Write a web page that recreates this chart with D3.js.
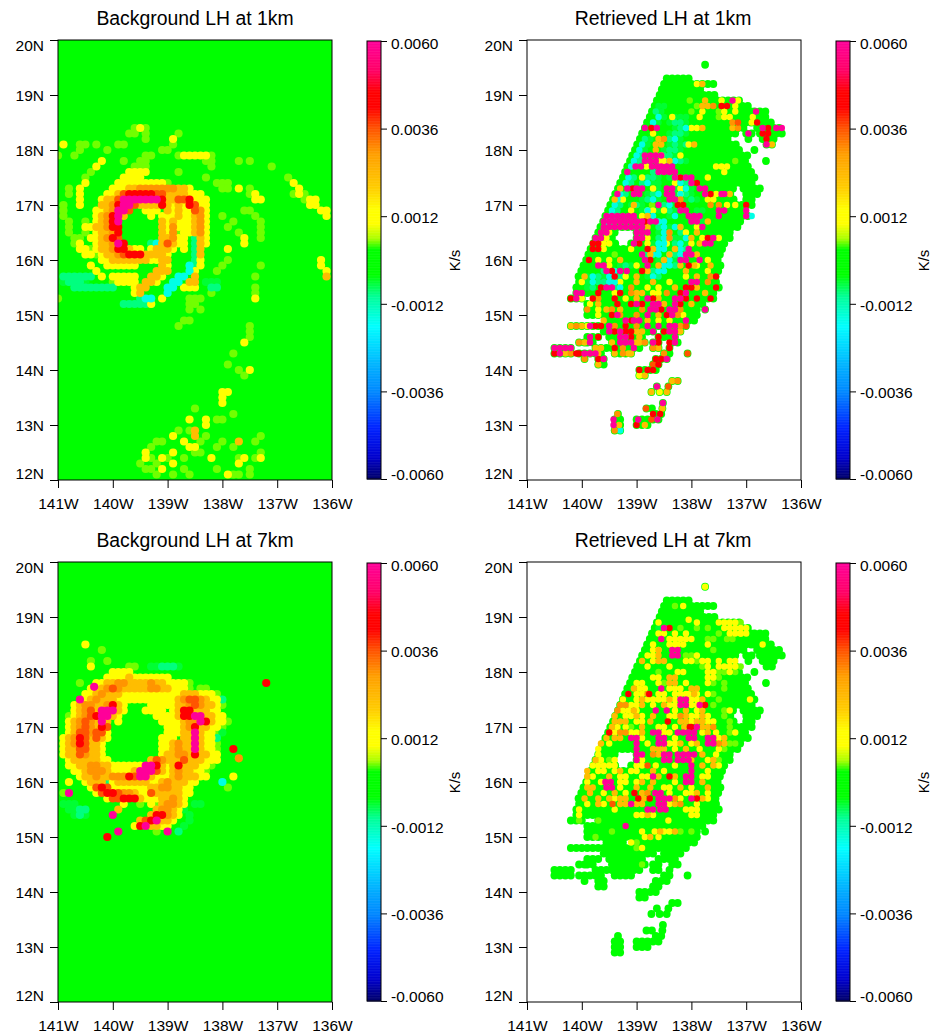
<!DOCTYPE html>
<html>
<head>
<meta charset="utf-8">
<script src="https://cdn.jsdelivr.net/npm/d3@7"></script>
<style>
  html, body { margin: 0; padding: 0; background: #fff; }
  text { font-family: "Liberation Sans", Arial, sans-serif; fill: #000; }
</style>
</head>
<body>
<div id="chart"></div>
<script>
// ------------------------------------
// Data
// Every run is [row, col, codes]: row = tenths of a degree south of 20N,
// col = tenths of a degree east of 141W, one code per 0.1 deg going east
// ------------------------------------
const lonTicks = [-141, -140, -139, -138, -137, -136];
const latTicks = [20, 19, 18, 17, 16, 15, 14, 13, 12];
const colorTicks = [0.006, 0.0036, 0.0012, -0.0012, -0.0036, -0.006];
const titles = ["Background LH at 1km", "Retrieved LH at 1km", "Background LH at 7km", "Retrieved LH at 7km"];

const stopValues = [0.006, 0.0052, 0.0046, 0.0042, 0.0036, 0.0029, 0.002, 0.0014, 0.001, 0.0006, 0.0003, -0.0004, -0.001, -0.0018, -0.003, -0.0036, -0.0046, -0.0054, -0.006];
const stopColors = ["#ff0099", "#ff0066", "#ff0000", "#ff0000", "#ff5500", "#ffa000", "#ffcc00", "#ffff00", "#ffff00", "#aaff00", "#00ff00", "#00ff00", "#00ff99", "#00ffff", "#00aaff", "#0088ff", "#0022ff", "#0000cc", "#000066"];

const codeNames = ["c", "s", "t", "g", "l", "y", "a", "o", "e", "r", "m"];
const codeValues = [-0.0016, -0.0009, -0.0006, 0, 0.0005, 0.0013, 0.0023, 0.003, 0.0036, 0.0045, 0.006];

const background1km = [
  [16,14,"lyl"],[17,13,"ll"],[17,16,"l"],[17,22,"l"],[18,21,"y"],[18,16,"l"],[19,21,"l"],[19,1,"y  ll l"],[19,11,"ll"],
  [20,4,"l"],[20,9,"l"],[20,19,"ll"],[21,0,"l  l"],[21,16,"ll"],[21,22,"lyyyyyl"],
  [22,8,"y"],[22,12,"l"],[22,15,"ll"],[22,27,"ll"],[22,33,"l"],[22,35,"l"],[23,7,"y"],[23,14,"lll"],[23,28,"l"],[23,39,"l"],
  [24,6,"l"],[24,13,"yyyy"],[24,22,"l"],[25,5,"l"],[25,12,"yyyy"],[25,27,"l"],[25,42,"l"],
  [26,5,"y"],[26,11,"yyyyyyyyyl"],[26,29,"lll"],[26,43,"y"],
  [27,2,"l"],[27,4,"y"],[27,10,"yyyaaoooooooaay"],[27,30,"ll"],[27,33,"y"],[27,35,"l"],[27,44,"y"],
  [28,2,"l"],[28,4,"y"],[28,9,"yyaerrrrreeaaaayyy"],[28,35,"ly"],[28,43,"lyl"],
  [29,4,"y"],[29,8,"yaaemmmmmmmraaeeryyy"],[29,36,"yy"],[29,45,"lyy"],
  [30,1,"l"],[30,4,"y"],[30,8,"aaormmeaaaarayayreyy"],[30,46,"yy"],
  [31,1,"l"],[31,7,"yyaomme"],[31,16,"yyy"],[31,20,"ayayyeoy"],[31,34,"ll"],[31,48,"yy"],
  [32,1,"l"],[32,7,"yaorma"],[32,17,"y"],[32,19,"yyyayyaoy"],[32,30,"l"],[32,36,"l"],[32,49,"y"],
  [33,2,"l"],[33,5,"l"],[33,7,"yaorm"],[33,19,"ayayyyaoy"],[33,32,"l"],[33,37,"l"],
  [34,2,"l"],[34,5,"yyaaorr"],[34,19,"ayoyyyaoy"],[34,31,"l"],[34,37,"l"],
  [35,2,"l"],[35,5,"l yaaor"],[35,19,"ayolyyaoy"],[35,33,"l"],[35,37,"l"],
  [36,3,"ll"],[36,6,"yyaore"],[36,19,"aaoyy"],[36,25,"say"],[36,34,"y"],[36,37,"l"],
  [37,3,"ly"],[37,7,"yaaomr"],[37,17,"sc"],[37,19,"aeayy"],[37,25,"say"],[37,34,"y"],
  [38,4,"yyl"],[38,7,"yaaorrayy"],[38,17,"yaaay"],[38,23,"y"],[38,25,"sa"],[38,31,"y"],
  [39,5,"yyl"],[39,8,"yaaoerrraaaay"],[39,25,"sa"],
  [40,8,"yyaaaaaaayyaa"],[40,25,"sy"],[40,31,"l"],[40,48,"y"],
  [41,6,"y"],[41,9,"yyyyyy"],[41,19,"ay"],[41,24,"csy"],[41,30,"l"],[41,37,"l"],[41,48,"y"],
  [42,7,"y"],[42,18,"aaa"],[42,24,"cy"],[42,29,"l"],[42,49,"y"],
  [43,1,"ssssss"],[43,8,"y"],[43,10,"yyyyy"],[43,17,"aay"],[43,22,"cc"],[43,25,"a"],[43,36,"l"],[43,49,"a"],
  [44,1,"tssst"],[44,10,"lyyyy"],[44,16,"aay"],[44,21,"cc"],[44,24,"aa"],[44,27,"ttt"],
  [45,3,"ssssssss"],[45,14,"yaa"],[45,20,"cc"],[45,23,"yyy"],[45,28,"ss"],[45,36,"l"],
  [46,14,"ya"],[46,20,"c"],[46,28,"l"],[46,36,"l"],
  [47,0,"l"],[47,15,"scc"],[47,19,"y"],[47,24,"lll"],[47,36,"y"],
  [48,12,"ssssss"],[48,17,"y"],[48,24,"ll"],[49,24,"l l"],
  [51,23,"ll"],[52,22,"l"],[52,35,"l"],[53,35,"l"],[54,35,"l"],[55,34,"y"],[57,32,"l"],[59,31,"l"],
  [60,33,"l"],[60,35,"y"],[61,34,"l"],[64,31,"y"],[64,30,"y"],[65,30,"y"],[66,30,"y"],[67,25,"l"],[68,32,"l"],
  [69,24,"y"],[69,27,"y"],[69,29,"ll"],[70,27,"y"],[71,22,"l"],[71,24,"la"],[72,21,"y"],[72,25,"a"],[72,27,"l"],[72,37,"l"],
  [73,18,"l"],[73,19,"l"],[73,23,"y"],[73,26,"l"],[73,30,"l"],[73,33,"a"],[73,36,"l"],
  [74,17,"l"],[74,24,"yy"],[74,29,"l"],[74,32,"l"],[75,16,"y"],[75,21,"y"],[75,25,"ll"],[75,37,"l"],
  [76,16,"yl"],[76,19,"yl"],[76,23,"l"],[76,28,"y"],[76,33,"ly"],[76,36,"ly"],
  [77,15,"l"],[77,18,"l"],[77,21,"y"],[77,33,"y"],[78,16,"ll"],[78,19,"y"],[78,23,"l"],[78,29,"l"],[78,35,"l"],
  [79,18,"l"],[79,21,"l"],[79,24,"l"],[79,31,"yll"],[79,35,"l"]
];

const background7km = [
  [15,5,"y"],[16,8,"l"],[18,6,"l"],[18,9,"l"],[19,6,"y"],[19,13,"ll"],[19,17,"ttssst"],[20,10,"yyyy"],
  [21,9,"yyyyayyyyyyy"],[22,4,"l"],[22,7,"yyaaooaaaaoaayyyyl"],[22.7,6.6,"m"],[22,38,"r"],
  [23,6,"yyaoeoaaaaaooaayyyl"],[23,26,"ll"],[24,5,"yyaoaaayyyyyyyyyyyaaayyyl"],
  [25,4,"myaoaaa"],[25,11,"yyyyyyyyyy"],[25,21,"yaoeeoayy"],[25,30,"s"],
  [26,3,"yaooaaoray"],[26,17,"yyy"],[26,20,"yyaaoeoaayl"],
  [27,3,"yaoeammmay"],[27,16,"yyyy"],[27,21,"yarraaayy"],
  [28,2,"lyaoermmay"],[28,18,"yyyy"],[28,22,"arrmmaayy"],
  [29,2,"yaoeoama y"],[29,19,"yyy"],[29,21,"yyaoomrayyl"],
  [30,2,"yaoeoare"],[30,20,"yyyaoraayyl"],
  [31,2,"yaeeoeey"],[31,20,"yyyaamayyl"],[31,30,"t"],
  [32,1,"yaoreaeay"],[32,19,"yyy"],[32,23,"aamayys"],
  [33,1,"yaoreaay"],[33,19,"yy"],[33,21,"aoaamayyl"],[34,1,"yaaeeaay"],[34,19,"yy"],[34,21,"aoaamayyl"],[34,32,"r"],
  [35,1,"yaaeoaay"],[35,19,"ya"],[35,21,"aooaraayy"],[35.7,33,"o"],
  [36,2,"yaaaaayy"],[36,17,"aeoaaaeaaayyy"],
  [37,2,"yyaaooaayy"],[37,12,"yyyy"],[37,16,"mmraya"],[37,22,"raaayyl"],
  [38,3,"yyaoooayyyyammmeayaoaayyl"],
  [39,4,"yaaoaaoooremmayyyaoaaayy"],[39,32,"y"],
  [40,2,"y"],[40,5,"yaaasyaaaaaayyaoaaayy"],[40,30,"c"],
  [41,6,"yerey"],[41,11,"yyyyyyaaooaayy"],[41,31,"l"],
  [42,1,"lm"],[42,7,"yerreooayyeaaaaayy"],
  [43,9,"yeerrrayy"],[43,18,"yaaoay"],[44,1,"ttt"],[44,12,"y"],[44,15,"l"],[44,17,"yl"],[44,19,"aooay"],[44,25,"tt"],
  [45,2,"ttss"],[45,11,"a"],[45,18,"aooay"],[45,23,"t"],[46,3,"tst"],[46,10,"m"],[46,17,"arroay"],[46,24,"t"],
  [47,15,"aerma"],[47,20,"ay"],[47,24,"t"],[48,14,"yrmaayy"],[48,23,"t"],[49,11,"m"],[49,18,"l"],[49,20,"m"],[49,22,"s"],[50,9,"r"]
];

// swath of retrieved points, same in both retrieved panels: [row, first col, last col]
const swathRows = [
  [4.5,32.5,32.5],[7,25.5,29.5],[8,25,30],[8,31,34],[9,24.6,32],[10,24.2,34],[11,23.7,39],[12,23.3,40],
  [13,22.8,40.5],[13,41.5,43],[14,22.4,40],[14,41.5,43],[15,21.9,41],[15,41.5,44],
  [16,21.5,36.5],[16,37.5,39],[16,42,46],[17,21,36.5],[17,38,38],[17,40,41],[17,42.5,46],[18,20.6,37],[18,40.4,40.4],[18,43,44.5],
  [19,20.1,38.5],[19,43.7,45],[20,19.7,39],[20,41.5,41.5],[21,19.2,40],[22,18.8,40],[22,43.6,43.6],[23,18.3,40.5],[24,17.9,41],[25,17.5,41],[26,17,40.5],
  [27,16.6,37.5],[27,39.5,42],[28,16.1,37.5],[28,40,41.5],[29,15.7,38],[29,40,41],[30,15.2,39],[30,40,40.5],[31,14.8,40],[32,14.3,40],[33,13.9,38.5],
  [34,13.4,38],[35,13,15.5],[35,20,37],[36,12.5,15.5],[36,20,37],[37,12.1,16],[37,19,36],[38,11.6,36],[39,11.2,35.5],[40,10.8,35],[41,10.3,35],
  [42,9.9,34.5],[43,9.4,34.5],[44,9.5,34.5],[45,9,34.5],
  [46,9,11.5],[46,13,33.5],[47,8,10],[47,13,34],[48,11,31.5],[49,11,30.5],[49,32.5,32.5],[50,11,30.5],
  [51,14.5,17.5],[51,19.5,30],[52,8,9],[52,10,13.5],[52,15,17],[52,18,29],[53,14,16],[53,17,22],[53,23,23],[53,25,28],
  [54,11,12],[54,13,13],[54,15,21],[54,24,27],[55,9.5,10],[55,11,12],[55,15.5,21.5],[55,23,24],[55,26.5,27],
  [56,5,6],[56,7,8],[56,12.5,14],[56,15.5,20],[56,23,24],[56,26,26],
  [57,5,6],[57,7,8],[57,9.5,13.5],[57,16,19],[57,25,25.5],[57,29.3,29.3],[58,10.5,10.5],[58,13,14],[58,23.5,25],[59,13,13.5],[59,23,24],
  [60,20.5,23],[61,20.5,21.5],[62,26.5,27.3],[63,25.8,25.8],[63,23.7,23.7],[64,22.7,22.7],[64,24.2,24.2],[64,25.5,25.5],
  [66,24.8,24.8],[67,21.8,22.3],[67,24.7,24.7],[68,16.6,16.6],[68,23.5,24.5],[69,16,16.5],[69,20,24],[70,16,17],[70,20,22],[71,16,17]
];

const retrieved1km = [
  [12,24,"tt"],[13,23.5,"st"],[14,24,"ct"],[14,27,"ttt"],[15,23,"ct"],[15,26,"tsst"],[16,27,"tsctt"],[17,26,"tsst"],[18,21.5,"st"],[18,26,"sct"],
  [19,21,"ct"],[19,26,"tst"],[19,29,"s"],[20,20.5,"ct"],[20,25,"tsst"],[21,20,"cs"],[21,25,"sst"],[22,19.5,"cs"],[22,25,"tcct"],[22,28,"st"],
  [23,19,"ct"],[23,24,"tst"],[24,23,"sct"],[25,18.5,"cs"],[25,21,"tsst"],[25,26,"tsct"],[26,18,"cs"],[26,21,"sctt"],[26,27,"scst"],[27,23,"tt"],[27,27,"tsct"],
  [28,17,"cs"],[28,22,"tsc"],[28,27,"tcst"],[29,16.5,"cs"],[29,21,"tsct"],[29,29,"tst"],[30,16,"cs"],[30,19,"tst"],[30,25,"sct"],[31,15.5,"cs"],[31,21,"tcst"],[31,26,"stt"],[31,31,"tt"],
  [32,15,"cs"],[32,21,"tsc"],[32,26,"tc"],[33,14.5,"cs"],[33,23,"tcc"],[33,31,"st"],[34,24,"sct"],[34,27,"cs"],[35,24,"tcs"],[35,28,"st"],[36,24,"scct"],[36,28,"tc"],
  [37,23,"tcc"],[37,27,"sct"],[38,22,"tscc"],[38,27,"scs"],[39,22,"scc"],[39,26,"csct"],[40,24,"tcct"],[40,27.5,"tt"],[41,17,"tst"],[41,24,"tccs"],
  [42,14,"stc"],[42,22,"tscc"],[43,11,"tcst"],[43,15,"csst"],[43,22,"tcs"],[44,11,"tcs"],[44,14,"scct"],[45,11,"ts"],[45,16,"sc"],

  [8,31,"ya"],[11,29.7,"l"],[11,32.5,"a"],[11,35.5,"y"],[11,37.5,"my"],[12,31,"la"],[12,33,"ao"],[12,35.5,"rr"],[12,38,"y"],
  [13,30,"l"],[13,32,"y"],[13,35,"l"],[13,36,"y"],[13,38,"y"],[13,41.8,"m"],[14,26.5,"y"],[14,31.5,"y"],[14,35,"ly"],[14,37,"y"],[14,41.2,"y"],
  [15,41,"yr"],[15,37.5,"oe"],[16,30,"yy"],[16,32,"a"],[16,21.5,"m"],[16,22.7,"rm"],[16,37.5,"ao"],[16,43,"mr"],[16,45.5,"mm"],
  [17,23,"y"],[17,40.4,"m"],[17,43,"rr"],[18,24,"ao"],[18,43.7,"r"],[19,23.5,"aa"],[19,29.5,"ya"],[19,43.7,"ma"],[20,23.5,"a"],
  [21,21.5,"mmmm"],[21,24.5,"y"],[21,28,"y"],[22,21.5,"mmmy"],[22,25,"ya"],[22,38,"l"],
  [23,19.8,"mmymm"],[23,24.5,"mmm"],[23,34.5,"yy"],[23,36.5,"y"],[24,18.3,"m"],[24,24,"mmmm"],[24,36,"y"],
  [25,21,"y"],[25,27,"mr"],[25,29,"mm"],[25,33,"y"],[26,30,"mr"],[26,27,"y"],
  [27,17,"a"],[27,18.3,"mr"],[27,20,"mm"],[27,23,"y"],[27,25.5,"mm"],[27,28,"y"],[27,31.5,"mm"],
  [28,16.5,"m"],[28,19.5,"mm"],[28,25.5,"mm"],[28,28,"yl"],[28,32.5,"mr"],[28,34.5,"ym"],[28,36,"ma"],
  [29,16,"a"],[29,17.5,"y"],[29,26,"mm"],[29,28,"o"],[29,33,"yy"],
  [30,19.5,"a"],[30,22.8,"l"],[30,24,"m"],[30,27.5,"rr"],[30,33.5,"o"],[30,35,"o"],[30,36.5,"y"],[30,38,"y"],[30,40,"r"],
  [31,19,"y"],[31,22,"yy"],[31,25,"y"],[31,28,"mm"],[31,35,"mm"],[31,40,"m"],
  [32,14.5,"mmmmmm"],[32,21,"ya"],[32,29.5,"mmm"],[32,35,"m"],[32,40,"mc"],
  [33,14,"mmmmmmmm"],[33,21.5,"rmm"],[33,30,"mm"],[33,33,"a"],
  [34,14,"mmmmmmm"],[34,21,"ma"],[34,28,"a"],[34,31,"ym"],
  [35,13.5,"mm"],[35,15,"y"],[35,20,"mm"],[35,22,"m"],[35,26,"o"],[35,29,"y"],[35,31,"a"],
  [36,12.5,"mm"],[36,14.5,"y"],[36,20,"mm"],[36,22,"y"],[36,26,"o"],[36,30,"a"],[36,32,"yrm"],[36,35,"y"],
  [37,12,"rr"],[37,14,"yy"],[37,19.5,"mr"],[37,22,"y"],[37,25.5,"y"],[37,30,"y"],[37,31.5,"amm"],
  [38,12,"rry"],[38,19,"y"],[38,22,"ra"],[38,27,"a"],[38,29.5,"m"],
  [39,16,"l"],[39,21,"m"],[39,22.5,"a"],[39,26,"a"],[39,29,"mm"],[39,31,"a"],
  [40,11.3,"r"],[40,13,"y"],[40,15,"y"],[40,17,"a"],[40,21.5,"mr"],[40,25,"a"],[40,28,"mm"],[40,31.5,"m"],[40,33,"y"],
  [41,13,"mm"],[41,15,"y"],[41,20,"y"],[41,22,"m"],[41,24,"a"],[41,28,"a"],[41,29.5,"ra"],[41,31,"y"],[41,33.5,"a"],
  [42,14.5,"mr"],[42,17,"m"],[42,18.2,"m"],[42,21,"r"],[42,22,"a"],[42,29,"a"],[42,33,"y"],
  [43,10.5,"a"],[43,16,"r"],[43,18,"y"],[43,20,"a"],[43,29,"y"],[43,31,"a"],[43,33.5,"or"],
  [44,10,"y"],[44,17,"y"],[44,20,"a"],[44,23,"a"],[44,26,"y"],[44,30,"mm"],[44,33,"o"],
  [45,13.5,"rmm"],[45,19,"o"],[45,22,"y"],[45,24,"y"],[45,27,"a"],[45,29,"rr"],[45,31,"a"],[45,34.5,"r"],
  [46,9,"mm"],[46,13,"r"],[46,16,"yr"],[46,19,"oa"],[46,21,"a"],[46,23,"yy"],[46,25.5,"o"],[46,28,"rm"],[46,32.5,"a"],
  [47,8,"rm"],[47,10,"y"],[47,12,"ro"],[47,16,"r"],[47,18,"y"],[47,20,"a"],[47,22,"mr"],[47,24,"a"],[47,27,"mm"],[47,29,"r"],[47,31,"r"],[47,33.5,"r"],
  [48,11.5,"y"],[48,13,"a"],[48,16.5,"r"],[48,19,"rm"],[48,21,"r"],[48,23,"mm"],[48,25,"a"],[48,27,"mr"],[48,30,"a"],
  [49,11,"o"],[49,13,"y"],[49,14.5,"ao"],[49,17,"a"],[49,21,"o"],[49,22.5,"mm"],[49,24.5,"r"],[49,26,"mm"],[49,28,"o"],[49,32.5,"m"],
  [50,13,"y"],[50,15.5,"rm"],[50,17,"o"],[50,20,"o"],[50,22,"m"],[50,24,"a"],[50,25.5,"rm"],[50,27.5,"oy"],
  [51,14,"a"],[51,18,"mr"],[51,19.5,"mm"],[51,22,"a"],[51,24,"y"],[51,26,"y"],[51,29,"m"],
  [52,8,"ao"],[52,10,"ay"],[52,11.5,"m"],[52,12.5,"rr"],[52,15,"m"],[52,16,"o"],[52,18,"r"],[52,20,"o"],[52,22,"m"],[52,24,"m"],[52,26,"mm"],[52,28,"oe"],
  [53,15,"mr"],[53,17,"mr"],[53,19,"ra"],[53,21,"a"],[53,23,"m"],[53,25,"r"],[53,26,"mma"],
  [54,11.5,"m"],[54,13,"r"],[54,17,"mm"],[54,19,"r"],[54,20.5,"a"],[54,24,"r"],[54,27,"m"],
  [55,9.5,"oa"],[55,11.5,"m"],[55,15.5,"a"],[55,17,"mmm"],[55,20,"a"],[55,20.5,"ao"],[55,23,"mr"],[55,26,"rm"],
  [56,5,"mm"],[56,7,"mm"],[56,12.5,"aa"],[56,16,"r"],[56,17.5,"o"],[56,19.5,"m"],[56,23,"oa"],[56,26,"r"],
  [57,5,"rm"],[57,7,"aor"],[57,9.5,"rmm"],[57,11.5,"om"],[57,13,"a"],[57,16,"a"],[57,17.5,"oa"],[57,19,"a"],[57,25,"o"],[57,29.3,"e"],
  [58,10.5,"o"],[58,13,"rm"],[58,23.5,"rrm"],[59,13,"a"],[59,23,"er"],[60,20.5,"r"],[60,22,"rr"],[61,20.5,"ya"],[62,26.5,"ao"],
  [63,23.7,"m"],[63,25.8,"e"],[64,22.7,"a"],[64,24.2,"y"],[64,25.5,"a"],[66,24.8,"m"],[67,21.7,"e"],[67,24.7,"a"],
  [68,16.5,"o"],[68,23,"r"],[68,24.3,"r"],[69,20.3,"m"],[69,22.7,"e"],[69,23.8,"m"],[69,15.8,"m"],[70,20,"r"],[70,21.5,"a"],[70,15.8,"ma"],[71,16,"o"],[71,17,"c"]
];

const retrieved7km = [
  [4.5,32.5,"y"],[8,27,"l"],[8,28.5,"y"],[10.5,29.5,"y"],[11,24,"y"],[11,31,"y"],[11,35,"yy"],[11,37,"yyl"],
  [12,24,"t"],[12,25,"mr"],[12,28,"l"],[12,31,"l"],[12,33,"l"],[12,36,"yy"],[12,38,"yyy"],
  [13,24,"yy"],[13,27,"y"],[13,29,"y"],[13,35,"l"],[13,37,"yyy"],[13,39,"yy"],
  [14,24.5,"m"],[14,26,"yy"],[14,28,"yyy"],[14,33,"ll"],[14,36.5,"ll"],[15,23,"y"],[15,26,"yy"],[15,27.5,"yy"],[15,33,"y"],[15,43,"y"],
  [16,23,"yy"],[16,26.5,"mm"],[16,24,"a"],[16,34,"l"],[17,22,"yy"],[17,24,"a"],[17,26.5,"mm"],[17,29,"ll"],[17,31,"y"],
  [18,21,"a"],[18,23,"ya"],[18,25,"a"],[18,29,"yy"],[18,31,"ly"],[18,33,"y"],[18,35,"y"],[18,37,"yy"],
  [19,22,"y"],[19,26,"y"],[19,32,"ly"],[19,35,"yyy"],[19,38,"yl"],[20,24,"l"],[20,27.5,"yy"],[20,33,"yy"],[20,35,"ll"],[20,37,"yl"],
  [21,23,"yy"],[21,26,"aa"],[21,33,"yy"],[21,35,"l"],[22,20,"yy"],[22,24,"yl"],[22,26,"aa"],[22,29,"y"],[22,33,"yl"],[22,36,"l"],
  [23,19.5,"ay"],[23,21.5,"y"],[23,24.5,"m"],[23,26,"yy"],[23,28,"y"],[23,30,"aa"],[23,36,"l"],
  [24,18.5,"r"],[24,20,"yyo"],[24,22.3,"r"],[24,24,"yy"],[24,27,"yyy"],[24,29.5,"ya"],[24,31,"y"],[24,33,"yl"],
  [25,17.5,"y"],[25,20,"yay"],[25,23,"yyya"],[25,27,"y"],[25,28,"mm"],[25,30,"yy"],[25,32,"a"],[25,35,"l"],[25,40.7,"y"],
  [26,17,"oo"],[26,19,"yy"],[26,21,"a"],[26,23,"y"],[26,25,"ay"],[26,27,"y"],[26,28,"mm"],[26,30,"yy"],[26,31.5,"mr"],[26,34,"l"],
  [27,16.5,"oy"],[27,18.5,"ya"],[27,20,"y"],[27,23.5,"m"],[27,25.5,"m"],[27,27,"y"],[27,29,"a"],[27,31,"ya"],[27,36,"ly"],
  [28,16,"a"],[28,18,"yy"],[28,20,"ay"],[28,23,"a"],[28,26,"yy"],[28,28,"oa"],[28,30,"yy"],[28,32,"ay"],[28,36,"l"],
  [29,16,"aa"],[29,18,"a"],[29,20,"yy"],[29,22.5,"a"],[29,25.7,"r"],[29,28,"aay"],[29,31,"aa"],[29,33,"yy"],[29,37,"l"],
  [30,15.5,"ay"],[30,18,"yl"],[30,21,"a"],[30,24,"yy"],[30,27,"y"],[30,28.7,"ar"],[30,30,"rm"],[30,32,"aa"],[30,34,"o"],[30,37,"l"],
  [31,15,"ry"],[31,17,"oo"],[31,19,"yy"],[31,21,"a"],[31,23,"mm"],[31,25,"yy"],[31,27.5,"mm"],[31,29.5,"mm"],[31,32,"ya"],[31,34.5,"y"],[31,37,"ly"],
  [32,14.5,"a"],[32,16,"aa"],[32,19,"mm"],[32,21,"y"],[32,24,"mm"],[32,27,"y"],[32,29.5,"mm"],[32,33,"mm"],[32,35,"ya"],
  [33,13.5,"a"],[33,15,"y"],[33,20,"m"],[33,22,"y"],[33,24,"mm"],[33,26,"yy"],[33,28,"a"],[33,30,"ya"],[33,33,"mm"],[33,35,"oa"],[33,37,"ll"],
  [34,13,"y"],[34,20,"m"],[34,23,"aa"],[34,25,"a"],[34,27,"y"],[34,29,"a"],[34,31.5,"y"],[34,35,"yl"],
  [35,13,"y"],[35,20,"mm"],[35,23,"oa"],[35,25,"mm"],[35,27.5,"mmmm"],[35,32,"a"],[35,34.5,"y"],
  [36,12.5,"ay"],[36,15,"ly"],[36,20,"m"],[36,21,"y"],[36,25,"mm"],[36,27.5,"mmm"],[36,30,"a"],[36,33,"ya"],[36,35,"l"],
  [37,12,"yy"],[37,14,"yy"],[37,16,"y"],[37,20,"yy"],[37,22,"e"],[37,23.5,"y"],[37,27,"y"],[37,30,"m"],[37,32,"a"],[37,34,"ay"],
  [38,11,"a"],[38,13,"yy"],[38,16,"ya"],[38,19,"yy"],[38,23,"a"],[38,25,"y"],[38,30,"m"],[38,33,"y"],
  [39,11,"ay"],[39,15,"a"],[39,17,"yy"],[39,21,"yy"],[39,23,"ma"],[39,26,"ra"],[39,29,"mm"],[39,32,"yy"],
  [40,11,"y"],[40,13.5,"y"],[40,14.3,"mm"],[40,17,"yy"],[40,20,"ya"],[40,23,"a"],[40,27,"y"],[40,29,"mm"],[40,32,"a"],
  [41,11,"aa"],[41,14.5,"mm"],[41,17,"y"],[41,20,"a"],[41,22.5,"a"],[41,25,"yy"],[41,28,"a"],[41,30,"y"],[41,33,"a"],
  [42,11.5,"a"],[42,14,"y"],[42,16,"a"],[42,18,"y"],[42,19.6,"r"],[42,21,"ao"],[42,23.4,"mm"],[42,26,"y"],[42,29,"yy"],[42,31,"a"],[42,33,"y"],
  [43,10.5,"a"],[43,13,"a"],[43,15,"ay"],[43,17,"aa"],[43,20.3,"ra"],[43,22.4,"r"],[43,24,"mmm"],[43,27,"oy"],[43,30,"mr"],[43,32,"ay"],
  [44,11,"y"],[44,13,"ay"],[44,15.6,"e"],[44,17,"aa"],[44,19,"ma"],[44,21,"a"],[44,24,"mmy"],[44,27,"ao"],[44,31,"y"],
  [45,9.5,"y"],[45,16,"y"],[45,22,"mm"],[45,24.3,"mm"],[45,29,"yy"],[45,31,"y"],[46,9.5,"y"],[46,20,"yy"],[46,22,"ay"],[46,30,"yy"],
  [47,9.5,"l"],[47,13,"l"],[47,25.8,"y"],[48,18,"m"],[49,15.5,"l"],[49,21,"y"],[49,23.3,"ya"],[49,25,"yya"],[49,28,"l"],[49,30,"l"],
  [50,12.5,"l"],[50,21.5,"ya"],[50,24,"y"],[51,19,"yl"],[52,20,"ly"],[55,21,"l"]
];

// ------------------------------------
// Layout
// ------------------------------------
const width = 944;
const height = 1036;
const plotW = 274;
const plotH = 440;
const colLeft = [58, 527];
const rowTop = [40, 562];

const lonScale = d3.scaleLinear().domain([-141, -136]).range([0, plotW]);
const latScale = d3.scaleLinear().domain([12, 20]).range([plotH, 0]);
const barScale = d3.scaleLinear().domain([-0.006, 0.006]).range([plotH - 1, 1]);
const colorScale = d3.scaleLinear().domain(stopValues).range(stopColors);

const codeScale = d3.scaleOrdinal().domain(codeNames).range(codeValues);

// turn [row, col, codes] runs into cells with lon, lat and value
function expandRuns(runs) {
  const cells = [];
  runs.forEach(([row, col, codes]) => {
    Array.from(codes).forEach((code, i) => {
      if (code === " ") return;
      cells.push({
        lon: -141 + (col + i) / 10,
        lat: 20 - row / 10,
        value: codeScale(code)
      });
    });
  });
  return cells;
}

const swathRuns = swathRows.map(([row, from, to]) => [row, from, "g".repeat(Math.round(to - from) + 1)]);

const svg = d3.select("#chart")
    .append("svg")
    .attr("width", width)
    .attr("height", height)
    .style("display", "block");

svg.append("defs").append("clipPath")
    .attr("id", "plot-clip")
    .append("rect")
    .attr("width", plotW)
    .attr("height", plotH);

// ------------------------------------
// One panel: map, axes, color bar
// ------------------------------------
function drawPanel(col, row, title, runs, isBackground) {
  const g = svg.append("g")
      .attr("transform", `translate(${colLeft[col]},${rowTop[row]})`);

  g.append("text")
      .attr("x", plotW / 2 - (col === 1 ? 1 : 0))
      .attr("y", -15)
      .attr("text-anchor", "middle")
      .style("font-size", "19.4px")
      .text(title);

  const map = g.append("g").attr("clip-path", "url(#plot-clip)");

  if (isBackground) {
    // field is zero almost everywhere
    map.append("rect")
        .attr("width", plotW)
        .attr("height", plotH)
        .attr("fill", colorScale(0));
  } else {
    map.selectAll("circle.swath")
        .data(expandRuns(swathRuns))
        .enter()
        .append("circle")
        .attr("class", "swath")
        .attr("cx", d => lonScale(d.lon))
        .attr("cy", d => latScale(d.lat))
        .attr("r", 3.9)
        .attr("fill", colorScale(0));
  }

  // strongest values end up on top
  const cells = expandRuns(runs).sort((a, b) => d3.ascending(Math.abs(a.value), Math.abs(b.value)));

  map.selectAll("circle.cell")
      .data(cells)
      .enter()
      .append("circle")
      .attr("class", "cell")
      .attr("cx", d => lonScale(d.lon))
      .attr("cy", d => latScale(d.lat))
      .attr("r", isBackground ? 4.1 : 3.2)
      .attr("fill", d => colorScale(d.value));

  g.append("rect")
      .attr("width", plotW)
      .attr("height", plotH)
      .attr("fill", "none")
      .attr("stroke", "#000")
      .attr("stroke-width", 1);

  // Axes
  const xAxis = d3.axisBottom(lonScale)
      .tickValues(lonTicks)
      .tickSize(8)
      .tickPadding(10)
      .tickFormat(d => `${Math.abs(d)}W`);

  const yAxis = d3.axisLeft(latScale)
      .tickValues(latTicks)
      .tickSize(8)
      .tickPadding(6)
      .tickFormat(d => `${d}N`);

  styleAxis(g.append("g").attr("transform", `translate(0,${plotH})`).call(xAxis));

  const yG = g.append("g").call(yAxis);
  styleAxis(yG);
  yG.selectAll(".tick text").attr("dy", d => d === 20 ? "0.65em" : d === 12 ? "-0.1em" : "0.36em");

  // Color bar
  const bar = g.append("g").attr("transform", `translate(${plotW + 35},0)`);
  const barStep = 0.00002;

  bar.selectAll("rect.band")
      .data(d3.range(-0.006, 0.006, barStep))
      .enter()
      .append("rect")
      .attr("class", "band")
      .attr("width", 14)
      .attr("y", d => barScale(d + barStep))
      .attr("height", d => barScale(d) - barScale(d + barStep) + 0.5)
      .attr("fill", d => colorScale(d + barStep / 2));

  bar.append("rect")
      .attr("y", 1)
      .attr("width", 14)
      .attr("height", plotH - 2)
      .attr("fill", "none")
      .attr("stroke", "#000")
      .attr("stroke-width", 1);

  const barAxis = d3.axisRight(barScale)
      .tickValues(colorTicks)
      .tickSize(6)
      .tickPadding(4)
      .tickFormat(d => d.toFixed(4));

  const barG = bar.append("g").attr("transform", "translate(14,0)").call(barAxis);
  styleAxis(barG);
  barG.selectAll(".tick text").attr("dy", d => d === 0.006 ? "0.5em" : d === -0.006 ? "0em" : "0.4em");

  bar.append("text")
      .attr("transform", `translate(93,${plotH / 2 + 0.5}) rotate(-90)`)
      .attr("text-anchor", "middle")
      .style("font-size", "15px")
      .text("K/s");
}

function styleAxis(axisG) {
  axisG.select(".domain").remove();
  axisG.selectAll(".tick line").attr("stroke", "#000").attr("stroke-width", 1);
  axisG.selectAll(".tick text").style("font-size", "15.5px").attr("fill", "#000");
}

drawPanel(0, 0, titles[0], background1km, true);
drawPanel(1, 0, titles[1], retrieved1km, false);
drawPanel(0, 1, titles[2], background7km, true);
drawPanel(1, 1, titles[3], retrieved7km, false);
</script>
</body>
</html>
